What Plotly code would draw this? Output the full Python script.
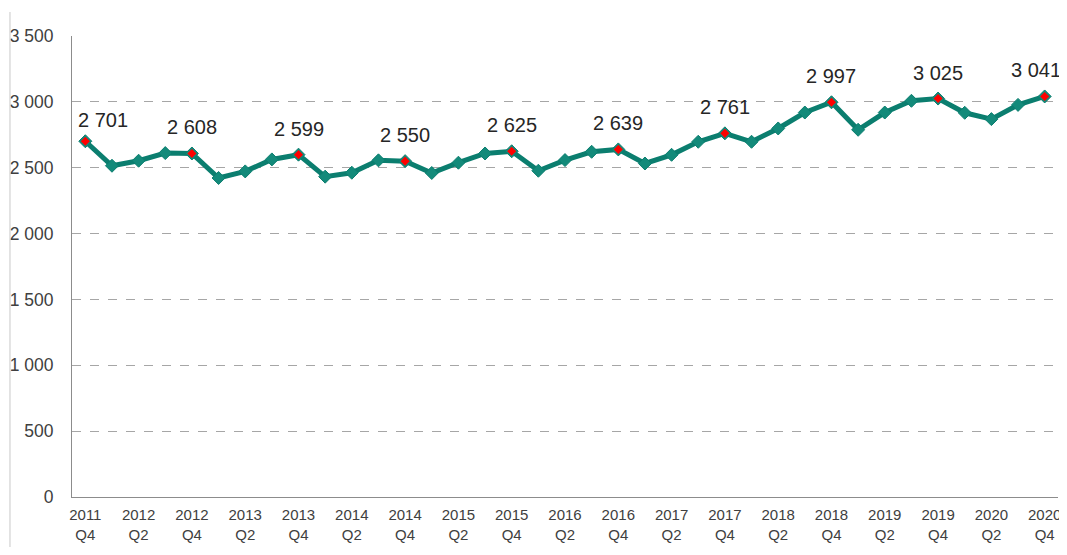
import plotly.graph_objects as go

quarters = [
    "2011 Q4",
    "2012 Q1", "2012 Q2", "2012 Q3", "2012 Q4",
    "2013 Q1", "2013 Q2", "2013 Q3", "2013 Q4",
    "2014 Q1", "2014 Q2", "2014 Q3", "2014 Q4",
    "2015 Q1", "2015 Q2", "2015 Q3", "2015 Q4",
    "2016 Q1", "2016 Q2", "2016 Q3", "2016 Q4",
    "2017 Q1", "2017 Q2", "2017 Q3", "2017 Q4",
    "2018 Q1", "2018 Q2", "2018 Q3", "2018 Q4",
    "2019 Q1", "2019 Q2", "2019 Q3", "2019 Q4",
    "2020 Q1", "2020 Q2", "2020 Q3", "2020 Q4",
]
values = [
    2701,
    2515, 2553, 2611, 2608,
    2422, 2472, 2563, 2599,
    2432, 2462, 2556, 2550,
    2460, 2538, 2608, 2625,
    2477, 2558, 2621, 2639,
    2532, 2598, 2697, 2761,
    2697, 2798, 2919, 2997,
    2788, 2919, 3008, 3025,
    2917, 2869, 2977, 3041,
]
tick_labels = [q.replace(" ", "<br>") for q in quarters]

x_idx = list(range(len(quarters)))
q4_idx = [i for i, q in enumerate(quarters) if q.endswith("Q4")]
q4_vals = [values[i] for i in q4_idx]

TEAL = "#0b7e6f"

fig = go.Figure()
fig.add_trace(go.Scatter(
    x=x_idx, y=values, mode="lines+markers",
    line=dict(color=TEAL, width=5),
    marker=dict(symbol="diamond", size=10, color="#138a7a",
                line=dict(color=TEAL, width=1)),
    hoverinfo="skip", showlegend=False, cliponaxis=False,
))
fig.add_trace(go.Scatter(
    x=q4_idx, y=q4_vals, mode="markers",
    marker=dict(symbol="diamond", size=7, color="#ff0000", line=dict(width=0)),
    hoverinfo="skip", showlegend=False, cliponaxis=False,
))

for k, (i, v) in enumerate(zip(q4_idx, q4_vals)):
    fig.add_annotation(
        x=i, y=v, text=f"{v:,}".replace(",", " "), showarrow=False,
        yshift=26 if k else 21,
        xshift=18 if k == 0 else (-9 if k == len(q4_idx) - 1 else 0),
        font=dict(family="Liberation Sans, Arial", size=20, color="#262626"),
    )

# left border line of the chart area
fig.add_shape(type="line", xref="paper", yref="paper",
              x0=-0.0629, x1=-0.0629, y0=-0.11, y1=1.052,
              line=dict(color="#c8c8c8", width=1))

fig.update_layout(
    width=1059, height=539,
    margin=dict(l=64, r=9, t=28, b=50, autoexpand=False),
    paper_bgcolor="white", plot_bgcolor="white",
    separators=". ",
    font=dict(family="Liberation Sans, Arial", color="#404040"),
    xaxis=dict(
        range=[-0.5, len(quarters) - 0.5],
        tickmode="array",
        tickvals=x_idx[::2], ticktext=tick_labels[::2],
        showgrid=False, zeroline=False, automargin=False,
        showline=True, linecolor="#8c8c8c", linewidth=1,
        ticks="", tickfont=dict(size=15, color="#404040"),
        ticklabelstandoff=4, ticklabeloverflow="allow",
    ),
    yaxis=dict(
        range=[0, 3500], dtick=500, tickformat=",d",
        showgrid=True, gridcolor="#a6a6a6", griddash="dash", gridwidth=1,
        zeroline=False, automargin=False,
        showline=True, linecolor="#8c8c8c", linewidth=1,
        ticks="", tickfont=dict(size=17.5, color="#404040"),
        ticklabelstandoff=14,
    ),
)

fig.write_html("out.html")
